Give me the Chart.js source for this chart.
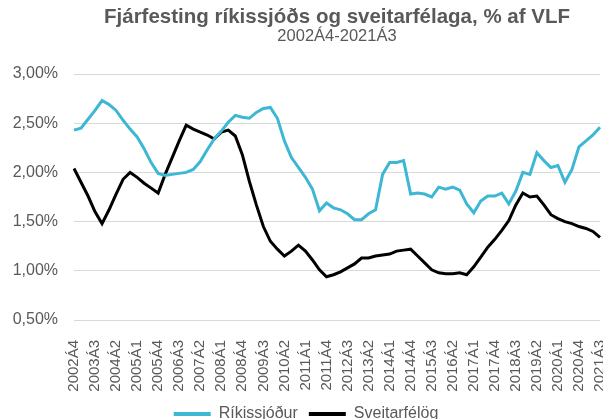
<!DOCTYPE html>
<html>
<head>
<meta charset="utf-8">
<script src="https://cdn.jsdelivr.net/npm/chart.js@4.4.1/dist/chart.umd.min.js"></script>
<style>
  html, body { margin: 0; padding: 0; background: #fff; overflow: hidden; }
  #wrap { width: 603px; height: 419px; overflow: hidden; }
  /* the legend sits partly below the frame, as in the original picture */
  #inner { position: relative; width: 603px; height: 432px; }
</style>
</head>
<body>
<div id="wrap"><div id="inner"><canvas id="chart"></canvas></div></div>
<script>
const quarters = [
  '2002Á4',
  '2003Á1', '2003Á2', '2003Á3', '2003Á4',
  '2004Á1', '2004Á2', '2004Á3', '2004Á4',
  '2005Á1', '2005Á2', '2005Á3', '2005Á4',
  '2006Á1', '2006Á2', '2006Á3', '2006Á4',
  '2007Á1', '2007Á2', '2007Á3', '2007Á4',
  '2008Á1', '2008Á2', '2008Á3', '2008Á4',
  '2009Á1', '2009Á2', '2009Á3', '2009Á4',
  '2010Á1', '2010Á2', '2010Á3', '2010Á4',
  '2011Á1', '2011Á2', '2011Á3', '2011Á4',
  '2012Á1', '2012Á2', '2012Á3', '2012Á4',
  '2013Á1', '2013Á2', '2013Á3', '2013Á4',
  '2014Á1', '2014Á2', '2014Á3', '2014Á4',
  '2015Á1', '2015Á2', '2015Á3', '2015Á4',
  '2016Á1', '2016Á2', '2016Á3', '2016Á4',
  '2017Á1', '2017Á2', '2017Á3', '2017Á4',
  '2018Á1', '2018Á2', '2018Á3', '2018Á4',
  '2019Á1', '2019Á2', '2019Á3', '2019Á4',
  '2020Á1', '2020Á2', '2020Á3', '2020Á4',
  '2021Á1', '2021Á2', '2021Á3'
];

// % af VLF
const rikissjodur = [
  2.43, 2.45, 2.54, 2.63, 2.73, 2.69, 2.63, 2.53, 2.44, 2.36,
  2.24, 2.10, 1.99, 1.97, 1.98, 1.99, 2.00, 2.03, 2.11, 2.23,
  2.34, 2.42, 2.51, 2.58, 2.56, 2.55, 2.61, 2.65, 2.66, 2.55,
  2.32, 2.15, 2.05, 1.95, 1.83, 1.61, 1.69, 1.64, 1.62, 1.58,
  1.52, 1.52, 1.58, 1.62, 1.98, 2.10, 2.10, 2.12, 1.78, 1.79,
  1.78, 1.75, 1.85, 1.83, 1.85, 1.82, 1.68, 1.59, 1.71, 1.76,
  1.76, 1.79, 1.68, 1.81, 2.00, 1.98, 2.20, 2.12, 2.05, 2.07,
  1.90, 2.03, 2.26, 2.32, 2.38, 2.46
];

const sveitarfelog = [
  2.04, 1.90, 1.76, 1.60, 1.48, 1.62, 1.78, 1.93, 2.00, 1.95,
  1.89, 1.84, 1.79, 1.98, 2.15, 2.32, 2.48, 2.44, 2.41, 2.38,
  2.34, 2.41, 2.43, 2.37, 2.18, 1.91, 1.67, 1.45, 1.30, 1.22,
  1.15, 1.20, 1.26, 1.20, 1.11, 1.01, 0.94, 0.96, 0.99, 1.03,
  1.07, 1.13, 1.13, 1.15, 1.16, 1.17, 1.20, 1.21, 1.22, 1.15,
  1.08, 1.01, 0.98, 0.97, 0.97, 0.98, 0.96, 1.04, 1.14, 1.24,
  1.32, 1.41, 1.51, 1.67, 1.79, 1.75, 1.76, 1.67, 1.57, 1.53,
  1.50, 1.48, 1.45, 1.43, 1.40, 1.34
];

const grayText = '#595959';
const cyan = '#3DB7D4';
const fontFam = 'Liberation Sans, Arial, sans-serif';

const ctx = document.getElementById('chart').getContext('2d');

new Chart(ctx, {
  type: 'line',
  data: {
    labels: quarters,
    datasets: [
      {
        label: 'Ríkissjóður',
        data: rikissjodur,
        borderColor: cyan,
        backgroundColor: cyan,
        borderWidth: 3,
        pointRadius: 0,
        tension: 0
      },
      {
        label: 'Sveitarfélög',
        data: sveitarfelog,
        borderColor: '#000000',
        backgroundColor: '#000000',
        borderWidth: 3,
        pointRadius: 0,
        tension: 0
      }
    ]
  },
  options: {
    responsive: true,
    maintainAspectRatio: false,
    animation: false,
    layout: { padding: { left: 12, right: 3, top: 0, bottom: 0 } },
    plugins: {
      title: {
        display: true,
        text: 'Fjárfesting ríkissjóðs og sveitarfélaga, % af VLF',
        color: grayText,
        fullSize: false,
        font: { family: fontFam, size: 20.5, weight: 'bold', lineHeight: 1.0 },
        padding: { top: 7, bottom: 0 }
      },
      subtitle: {
        display: true,
        text: '2002Á4-2021Á3',
        color: grayText,
        fullSize: false,
        font: { family: fontFam, size: 16.5, lineHeight: 1.0 },
        padding: { top: 1, bottom: 29 }
      },
      legend: {
        position: 'bottom',
        labels: {
          color: grayText,
          font: { family: fontFam, size: 16 },
          boxWidth: 37,
          boxHeight: 4,
          padding: 11,
          generateLabels: (chart) => {
            const items = Chart.defaults.plugins.legend.labels.generateLabels(chart);
            items.forEach(it => { it.lineWidth = 0; });
            return items;
          }
        }
      },
      tooltip: { enabled: false }
    },
    scales: {
      x: {
        offset: false,
        grid: { display: false },
        border: { display: false },
        afterFit: (scale) => {
          scale.paddingLeft = 0;
          scale.paddingRight = 0;
          scale.height = 75;
        },
        ticks: {
          autoSkip: false,
          minRotation: 90,
          maxRotation: 90,
          color: grayText,
          padding: 12,
          font: { family: fontFam, size: 15 },
          callback: function (value, index) {
            return index % 3 === 0 ? quarters[index] : null;
          }
        }
      },
      y: {
        min: 0.5,
        max: 3.0,
        border: { display: false },
        grid: { color: '#D9D9D9', lineWidth: 1, drawTicks: false },
        afterFit: (scale) => {
          scale.width = 62;
        },
        ticks: {
          stepSize: 0.5,
          color: grayText,
          padding: 16,
          font: { family: fontFam, size: 16 },
          callback: (v) => v.toFixed(2).replace('.', ',') + '%'
        }
      }
    }
  }
});
</script>
</body>
</html>
